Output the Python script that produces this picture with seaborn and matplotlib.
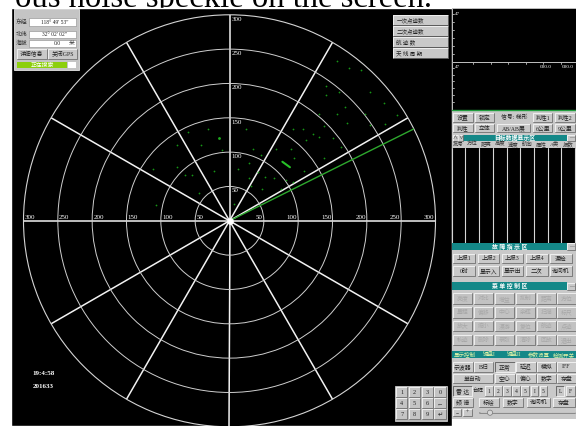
import numpy as np
import matplotlib
matplotlib.use("Agg")
import matplotlib.pyplot as plt
from matplotlib.patches import Rectangle, Circle
import seaborn as sns

# ---- values ----
ring_ranges = [50, 100, 150, 200, 250, 300]
spoke_bearings = list(range(0, 360, 30))
sweep_bearing = 26.5

# plots as east / north offsets in km
target_east = [-60, -32, -16, 24, -76, -42, -11, 34, 46, 68, -112, -77, -65, -55, -23, 12, 28, 41, 51, 65,
               29, -44, 31, 47, 75, -107, 7, 82,
               157, 174, 192, 141, 205, 160, 141, 225, 168, 131, 157, 244, 198, 171, 226, 205, 93, 107, 138,
               121, 150, 112, 131, 163, 89, 94, 138, 109, 92]
target_north = [129, 134, 121, 133, 111, 110, 103, 104, 96, 104, 75, 79, 67, 66, 73, 76, 84, 71, 64, 63,
                62, 40, 50, 47, 47, 23, 25, 59,
                232, 222, 220, 197, 188, 187, 183, 171, 166, 156, 155, 154, 155, 142, 141, 140, 133, 134, 138,
                127, 121, 117, 122, 108, 105, 91, 91, 73, 56]
bright_east = [-16]
bright_north = [121]
streak_east = [77, 88]
streak_north = [86, 78]

gps_labels = ["东经", "北纬", "海拔"]
gps_values = ["118° 49' 53\"", "32° 02' 02\"", "0.0"]
count_buttons = ["一次点迹数", "二次点迹数", "航 迹 数", "天 线 周 期"]
clock_text = ["19:4:58", "201633"]
keypad_keys = [["1", "2", "3", "0"], ["4", "5", "6", "←"], ["7", "8", "9", "↵"]]

top_row1 = ["设置", "锁定", None, "判性1", "判性2"]
top_row2 = ["判性", "立体", "AB/AB展", "6公里", "9公里"]
table_header = ["批号", "方位", "距离", "高度", "速度", "航向", "属性", "A类", "报数"]
fault_row1 = ["上报1", "上报2", "上报3", "上报4", "漏检"]
fault_row2 = ["0时", "显示入", "显示出", "二次", "询问机"]
menu_grid = ["亮度", "对比", "增益", "抑制", "距离", "方位",
             "量程", "偏移", "中心", "余辉", "扫描", "标尺",
             "放大", "缩小", "漫游", "复位", "航迹", "点迹",
             "轨迹", "删除", "录取", "清除", "回放", "退出"]
tabs = ["显示控制", "键盘I", "键盘II", "参数设置", "检测开关"]
row_c = ["示波器", "B扫", "正常", "延迟", "模拟", "IFF"]
row_d = ["单自动", "空心", "偏心", "数字", "存盘"]
channel_keys = ["1", "2", "3", "4", "5", "I", "5"]
row_f = ["频 谱", "标绘", "数字", "询问机", "存盘"]

sns.set_style("white")
plt.rcParams['font.family'] = ['Liberation Serif', 'Noto Sans CJK SC', 'DejaVu Sans']

W, H = 577, 426
fig = plt.figure(figsize=(W / 100, H / 100), dpi=100, facecolor='white')

# background layer in pixel coordinates
ax_ui = fig.add_axes([0, 0, 1, 1])
ax_ui.set_xlim(0, W)
ax_ui.set_ylim(H, 0)
ax_ui.axis('off')
# bottom of a line of document text, cut by the screenshot edge
ax_ui.text(15, 7.5, "ous noise speckle on the screen.", fontsize=23.5, color='black',
           family='Liberation Serif', va='baseline', zorder=0.5)
ax_ui.add_patch(Rectangle((11, 8), 441, 418, facecolor='black', zorder=1))

# ---- radar scope (polar) ----
cx, cy, R = 229.5, 220.8, 206
ax_r = fig.add_axes([(cx - R) / W, (H - cy - R) / H, 2 * R / W, 2 * R / H], projection='polar')
ax_r.set_facecolor('black')
ax_r.set_thetagrids(spoke_bearings, labels=[''] * len(spoke_bearings))
ax_r.set_rgrids(ring_ranges[:-1], labels=[''] * (len(ring_ranges) - 1))
ax_r.xaxis.grid(True, color='#f2f2f2', lw=1.1)
ax_r.yaxis.grid(True, color='#cfcfcf', lw=0.7)
ax_r.tick_params(which='both', length=0)
ax_r.spines['polar'].set_edgecolor('#d4d4d4')
ax_r.spines['polar'].set_linewidth(0.8)

e = np.array(target_east, float)
n = np.array(target_north, float)
sns.scatterplot(x=np.arctan2(n, e), y=np.hypot(e, n), ax=ax_r, s=1.6, color='#169616',
                linewidth=0, legend=False, zorder=3)
be = np.array(bright_east, float)
bn = np.array(bright_north, float)
sns.scatterplot(x=np.arctan2(bn, be), y=np.hypot(be, bn), ax=ax_r, s=4, color='#1ea81e',
                linewidth=0, legend=False, zorder=3)
se = np.array(streak_east, float)
sn = np.array(streak_north, float)
ax_r.plot(np.arctan2(sn, se), np.hypot(se, sn), color='#27c027', lw=1.5, zorder=3)

th = np.deg2rad(sweep_bearing)
ax_r.plot([th, th], [0, ring_ranges[-1]], color='#2ea82e', lw=1.0, zorder=4)
ax_r.scatter([0], [0], s=14, color='white', zorder=5)
ax_r.set_ylim(0, ring_ranges[-1])
ax_r.set_xlabel('')
ax_r.set_ylabel('')

px = 0.72
lab_kw = dict(color='white', fontsize=5, family='Liberation Serif', textcoords='offset points',
              annotation_clip=False, zorder=6)
for r in ring_ranges:
    ax_r.annotate(str(r), xy=(np.pi, r), xytext=(1.2 * px, 0.8 * px), ha='left', va='bottom', **lab_kw)
    ax_r.annotate(str(r), xy=(0, r), xytext=(-1 * px, 0.8 * px), ha='right', va='bottom', **lab_kw)
    ax_r.annotate(str(r), xy=(np.pi / 2, r), xytext=(2 * px, -2 * px), ha='left', va='top', **lab_kw)

# ---- overlay widgets ----
ax = fig.add_axes([0, 0, 1, 1])
ax.set_xlim(0, W)
ax.set_ylim(H, 0)
ax.axis('off')

FACE = '#c9c9c9'


def box(x, y, w, h, fc, ec='none', lw=0.6, z=2):
    ax.add_patch(Rectangle((x, y), w, h, facecolor=fc, edgecolor=ec, lw=lw, zorder=z))


def btn(x, y, w, h, label, fs=4.2, face=FACE, pressed=False, tc='#222222', ha='center'):
    box(x, y, w, h, face, z=3)
    hi, lo = ('#5a5a5a', '#f4f4f4') if pressed else ('#f6f6f6', '#707070')
    ax.plot([x, x, x + w], [y + h, y, y], color=hi, lw=0.6, zorder=3.1)
    ax.plot([x, x + w, x + w], [y + h, y + h, y], color=lo, lw=0.6, zorder=3.1)
    if label:
        tx = x + w / 2 if ha == 'center' else x + 4
        ax.text(tx, y + h / 2 + 0.3, label, ha=ha, va='center', fontsize=fs, color=tc, zorder=3.2)


def bar(x, y, w, h, label, tc='white', fs=4.2):
    box(x, y, w, h, '#148888', z=3)
    ax.text(x + w / 2, y + h / 2 + 0.3, label, ha='center', va='center', fontsize=fs,
            color=tc, zorder=3.2, fontweight='bold')


# GPS box
box(13.5, 9.3, 65, 61, '#c4c4c4', ec='#e6e6e6', lw=0.6)
for i, (lab, val) in enumerate(zip(gps_labels, gps_values)):
    y0 = [18.3, 30.5, 39.6][i]
    ax.text(21.5, y0 + 3.9, lab, ha='center', va='center', fontsize=4.2, color='#333333', zorder=3.2)
    box(29.3, y0, 46.7, 7.6, 'white', ec='#8a8a8a', lw=0.4, z=3)
    xv = 55 if i < 2 else 57
    ax.text(xv, y0 + 3.9, val, ha='center', va='center', fontsize=4.0, color='#222222', zorder=3.2)
ax.text(72, 43.4, "米", ha='center', va='center', fontsize=4.2, color='#333333', zorder=3.2)
btn(16.7, 48.5, 30, 10.8, "详细信息")
btn(48.3, 48.5, 29, 10.8, "关闭GPS")
box(17.3, 61.7, 49.5, 6.8, '#8ccf0c', z=3)
ax.text(42, 65.3, "正在搜索", ha='center', va='center', fontsize=4.2, color='white', zorder=3.2)
box(67.5, 61.7, 8.5, 6.8, 'white', z=3)

# counters top right of scope
for i, lab in enumerate(count_buttons):
    btn(392.5, 15.3 + 11 * i, 55, 9.6, lab, ha='left', fs=4.0)

# clock
for i, t in enumerate(clock_text):
    ax.text(43.5, 373.3 + 13.4 * i, t, ha='center', va='center', fontsize=5, color='white',
            fontweight='bold', zorder=3.2)

# keypad
box(394.5, 385.5, 52, 35, '#b8b8b8', ec='#e0e0e0', lw=0.5)
kx = [396, 409, 421.7, 434.3]
ky = [386.7, 398.3, 409.3]
for r_i, row in enumerate(keypad_keys):
    for c_i, k in enumerate(row):
        btn(kx[c_i], ky[r_i], 11.4, 10, k, fs=4.5, face='#c4c4c4')

# ---- right column ----
box(452, 8, 123.5, 53.5, 'black', ec='#bdbdbd', lw=0.7)
box(452, 61.5, 123.5, 48, 'black', ec='#bdbdbd', lw=0.7)
ax.plot([452, 575.5], [109.6, 109.6], color='#1f9d3c', lw=1.0, zorder=3)
for xt in np.arange(473, 575, 17.5):
    ax.plot([xt, xt], [61.5, 63.5], color='#bdbdbd', lw=0.6, zorder=3)
for yt in np.arange(68, 108, 6.7):
    ax.plot([452, 454], [yt, yt], color='#bdbdbd', lw=0.6, zorder=3)
for yt in np.arange(14, 60, 8):
    ax.plot([452, 454], [yt, yt], color='#bdbdbd', lw=0.6, zorder=3)
ax.text(455, 14, "47", fontsize=3.6, color='white', va='center', zorder=3.2)
ax.text(455, 66.5, "47", fontsize=3.6, color='white', va='center', zorder=3.2)
ax.text(546, 66.5, "000.0", fontsize=3.8, color='white', va='center', ha='center', zorder=3.2)
ax.text(567.5, 66.5, "000.0", fontsize=3.8, color='white', va='center', ha='center', zorder=3.2)

# target data panel
box(452, 110.3, 123.5, 38, FACE)
xs5 = [453.3, 475, 497, 533.3, 555]
ws5 = [19.4, 19, 33, 19, 20]
for i, lab in enumerate(top_row1):
    if lab is None:
        ax.text(514.5, 117.5, "信号: 梯形", ha='center', va='center', fontsize=4.2, color='#222222',
                zorder=3.2)
    else:
        btn(xs5[i], 113.3, ws5[i], 8.4, lab)
for i, lab in enumerate(top_row2):
    btn(xs5[i], 124, ws5[i], 8.4, lab)
btn(452.5, 134.5, 5.3, 6, "∧", fs=3.5)
btn(457.8, 134.5, 5.3, 6, "∨", fs=3.5)
bar(463.2, 134.5, 103.5, 6, "目标数据显示区")
btn(566.8, 134.5, 8.5, 6, "—", fs=3.5)
col_x = np.linspace(451.7, 575, len(table_header) + 1)
for i, lab in enumerate(table_header):
    ax.text((col_x[i] + col_x[i + 1]) / 2, 144.3, lab, ha='center', va='center', fontsize=3.9,
            color='#333333', zorder=3.2)
box(452, 148.3, 123.5, 94.3, 'black')
for xc in col_x:
    ax.plot([xc, xc], [148.3, 242.6], color='#d6d6d6', lw=0.8, zorder=3)

# fault panel + menus
bar(452, 242.6, 114.8, 7.4, "故 障 指 示 区")
btn(566.8, 242.6, 8.5, 7.4, "—", fs=3.5)
box(452, 250, 123.5, 168.6, FACE)
xsf = [453.3, 477.7, 501.7, 526, 550]
for i, lab in enumerate(fault_row1):
    btn(xsf[i], 254, 21.7, 9.3, lab)
for i, lab in enumerate(fault_row2):
    btn(xsf[i], 266.3, 21.7, 9.7, lab)
bar(452, 282.3, 114.8, 7.7, "菜 单 控 制 区")
btn(566.8, 283, 8.5, 6.5, "—", fs=3.5)
gx = [453, 474, 495, 516, 537, 557]
gy = [293.3, 307, 320.7, 334.7]
for k, lab in enumerate(menu_grid):
    btn(gx[k % 6], gy[k // 6], 19.3, 10.5, lab, tc='#a8a8a8', face='#c2c2c2')
box(452, 350.7, 123.5, 7.6, '#148888', z=3)
for lab, xt in zip(tabs, [465, 489, 514.5, 539, 564]):
    ax.text(xt, 354.7, lab, ha='center', va='center', fontsize=4.0, color='#dff2a6', zorder=3.2)
wc = [20, 18.5, 19.5, 19.5, 18.5, 18.5]
for i, lab in enumerate(row_c):
    btn(gx[i], 361.7, wc[i], 10, lab, pressed=(lab == "正常"))
btn(453, 374, 40, 9.3, row_d[0])
for i, lab in enumerate(row_d[1:]):
    btn(gx[i + 2], 374, wc[i + 2], 9.3, lab)
btn(453, 386, 19, 9.7, "雷 达", pressed=True)
ax.text(478.3, 391, "台阵", ha='center', va='center', fontsize=4.0, color='#222222', zorder=3.2)
for i, lab in enumerate(channel_keys):
    btn(485 + 9.1 * i, 386, 7.6, 9.7, lab, fs=4.0)
btn(556, 386, 8.3, 9.7, "L", fs=4.0, pressed=True)
btn(566, 386, 9, 9.7, "F", fs=4.0)
btn(453, 397.7, 20, 9.6, row_f[0])
for lab, x0, w0 in zip(row_f[1:], [479, 503, 527, 553], [20, 20, 23, 22]):
    btn(x0, 397.7, w0, 9.6, lab)
btn(453, 409, 8.3, 7, "−", fs=4.0)
btn(463, 409, 9, 7, "+", fs=4.0)
ax.plot([480, 575], [412.7, 412.7], color='#8a8a8a', lw=1.4, zorder=3)
ax.plot([480, 575], [412.2, 412.2], color='#f2f2f2', lw=0.4, zorder=3.05)
ax.add_patch(Circle((490, 412.7), 2.6, facecolor='#d6d6d6', edgecolor='#777777', lw=0.5, zorder=3.2))
box(452, 418.6, 125, 8, 'white', z=3.5)
box(575.5, 0, 2, H, 'white', z=3.5)

fig.savefig('out.png', dpi=100, facecolor='white')
